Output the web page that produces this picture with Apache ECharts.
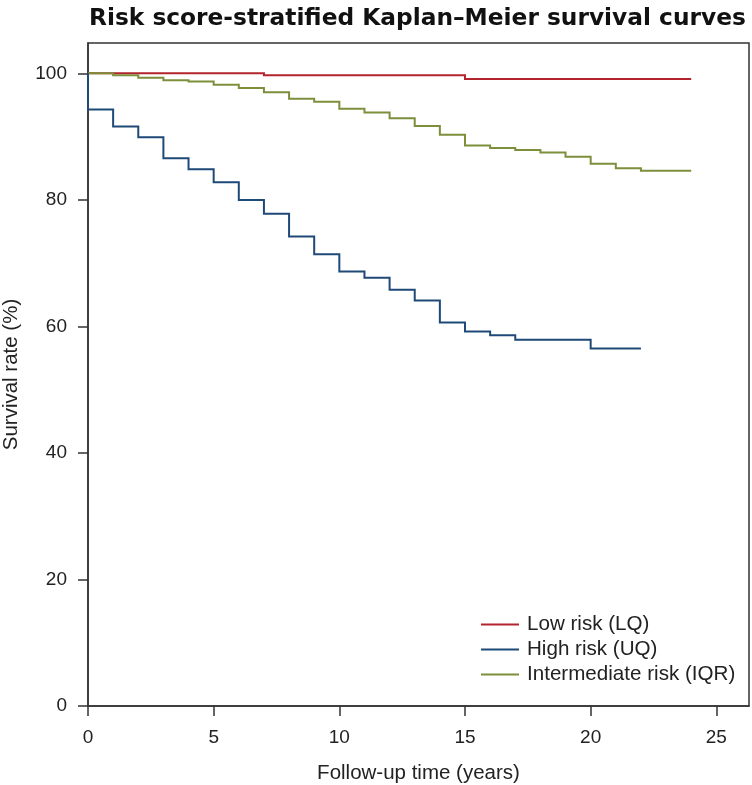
<!DOCTYPE html>
<html>
<head>
<meta charset="utf-8">
<script src="https://cdn.jsdelivr.net/npm/echarts@6/dist/echarts.min.js"></script>
<style>
  html, body { margin: 0; padding: 0; background: #fff; }
  #chart { width: 752px; height: 785px; }
</style>
</head>
<body>
<div id="chart"></div>
<script>
// 时间（年）和生存率（%）
var lowTimes = [0, 7, 15, 24];
var lowValues = [100, 99.7, 99.1, 99.1];

var highTimes = [0, 0, 1, 2, 3, 4, 5, 6, 7, 8, 9, 10, 11, 12, 13, 14, 15, 16, 17, 20, 22];
var highValues = [100, 94.3, 91.6, 89.9, 86.6, 84.85, 82.8, 80.0, 77.8, 74.2, 71.4, 68.7, 67.7, 65.8, 64.1, 60.6, 59.2, 58.6, 57.9, 56.5, 56.5];

var midTimes = [0, 1, 2, 3, 4, 5, 6, 7, 8, 9, 10, 11, 12, 13, 14, 15, 16, 17, 18, 19, 20, 21, 22, 24];
var midValues = [100, 99.7, 99.3, 98.9, 98.7, 98.2, 97.7, 97.0, 96.0, 95.5, 94.4, 93.8, 92.9, 91.7, 90.3, 88.6, 88.2, 87.9, 87.5, 86.8, 85.7, 85.0, 84.6, 84.6];

var xTicks = [0, 5, 10, 15, 20, 25];
var yTicks = [0, 20, 40, 60, 80, 100];

var colors = { low: "#b3242e", high: "#1f4a78", mid: "#7d8f3b" };

// KM 阶梯折线：水平保持到下一个时间点再下降
function steps(t, v) {
  var pts = [[t[0], v[0]]];
  for (var i = 1; i < t.length; i++) {
    pts.push([t[i], v[i - 1]]);
    pts.push([t[i], v[i]]);
  }
  return pts;
}

var font = "'Liberation Sans', Arial, sans-serif";

function kmSeries(name, t, v, color, z) {
  return {
    name: name,
    type: "lines",
    coordinateSystem: "cartesian2d",
    polyline: true,
    silent: true,
    data: [{ coords: steps(t, v) }],
    lineStyle: { color: color, width: 2, opacity: 1 },
    z: z
  };
}

var option = {
  backgroundColor: "#fff",
  animation: false,
  title: {
    text: "Risk score-stratified Kaplan–Meier survival curves",
    left: 84,
    top: 2,
    textStyle: { fontFamily: "'DejaVu Sans', sans-serif", fontSize: 23.3, fontWeight: "bold", color: "#111" }
  },
  legend: {
    orient: "vertical",
    left: 476,
    top: 609,
    itemWidth: 38,
    itemHeight: 2,
    itemGap: 4,
    textStyle: { fontFamily: font, fontSize: 20.6, color: "#222", padding: [0, 0, 0, 3] },
    data: [
      { name: "Low risk (LQ)", icon: "rect", itemStyle: { color: colors.low, borderWidth: 0 } },
      { name: "High risk (UQ)", icon: "rect", itemStyle: { color: colors.high, borderWidth: 0 } },
      { name: "Intermediate risk (IQR)", icon: "rect", itemStyle: { color: colors.mid, borderWidth: 0 } }
    ]
  },
  grid: {
    left: 88,
    right: 3,
    top: 43,
    bottom: 79,
    containLabel: false,
    outerBoundsMode: "none",
    show: true,
    borderColor: "#333",
    borderWidth: 1.5
  },
  xAxis: {
    type: "value",
    min: 0,
    max: 26.3,
    name: "Follow-up time (years)",
    nameLocation: "middle",
    nameGap: 57,
    nameMoveOverlap: false,
    nameTextStyle: { fontFamily: font, fontSize: 20.5, color: "#222" },
    axisLine: { show: true, lineStyle: { color: "#333", width: 1.5 } },
    axisTick: { show: true, length: 10, customValues: xTicks, lineStyle: { color: "#333", width: 1.5 } },
    axisLabel: { customValues: xTicks, margin: 22, fontFamily: font, fontSize: 19, color: "#222" },
    splitLine: { show: false }
  },
  yAxis: {
    type: "value",
    min: 0,
    max: 104.8,
    name: "Survival rate (%)",
    nameLocation: "middle",
    nameGap: 66,
    nameMoveOverlap: false,
    nameTextStyle: { fontFamily: font, fontSize: 20.5, color: "#222" },
    axisLine: { show: true, lineStyle: { color: "#333", width: 1.5 } },
    axisTick: { show: true, length: 10, customValues: yTicks, lineStyle: { color: "#333", width: 1.5 } },
    axisLabel: { customValues: yTicks, margin: 21, fontFamily: font, fontSize: 19, color: "#222" },
    splitLine: { show: false }
  },
  series: [
    kmSeries("Low risk (LQ)", lowTimes, lowValues, colors.low, 1),
    kmSeries("High risk (UQ)", highTimes, highValues, colors.high, 3),
    kmSeries("Intermediate risk (IQR)", midTimes, midValues, colors.mid, 2)
  ]
};

var chartObj = echarts.init(document.getElementById("chart"));
chartObj.setOption(option, true);
</script>
</body>
</html>
